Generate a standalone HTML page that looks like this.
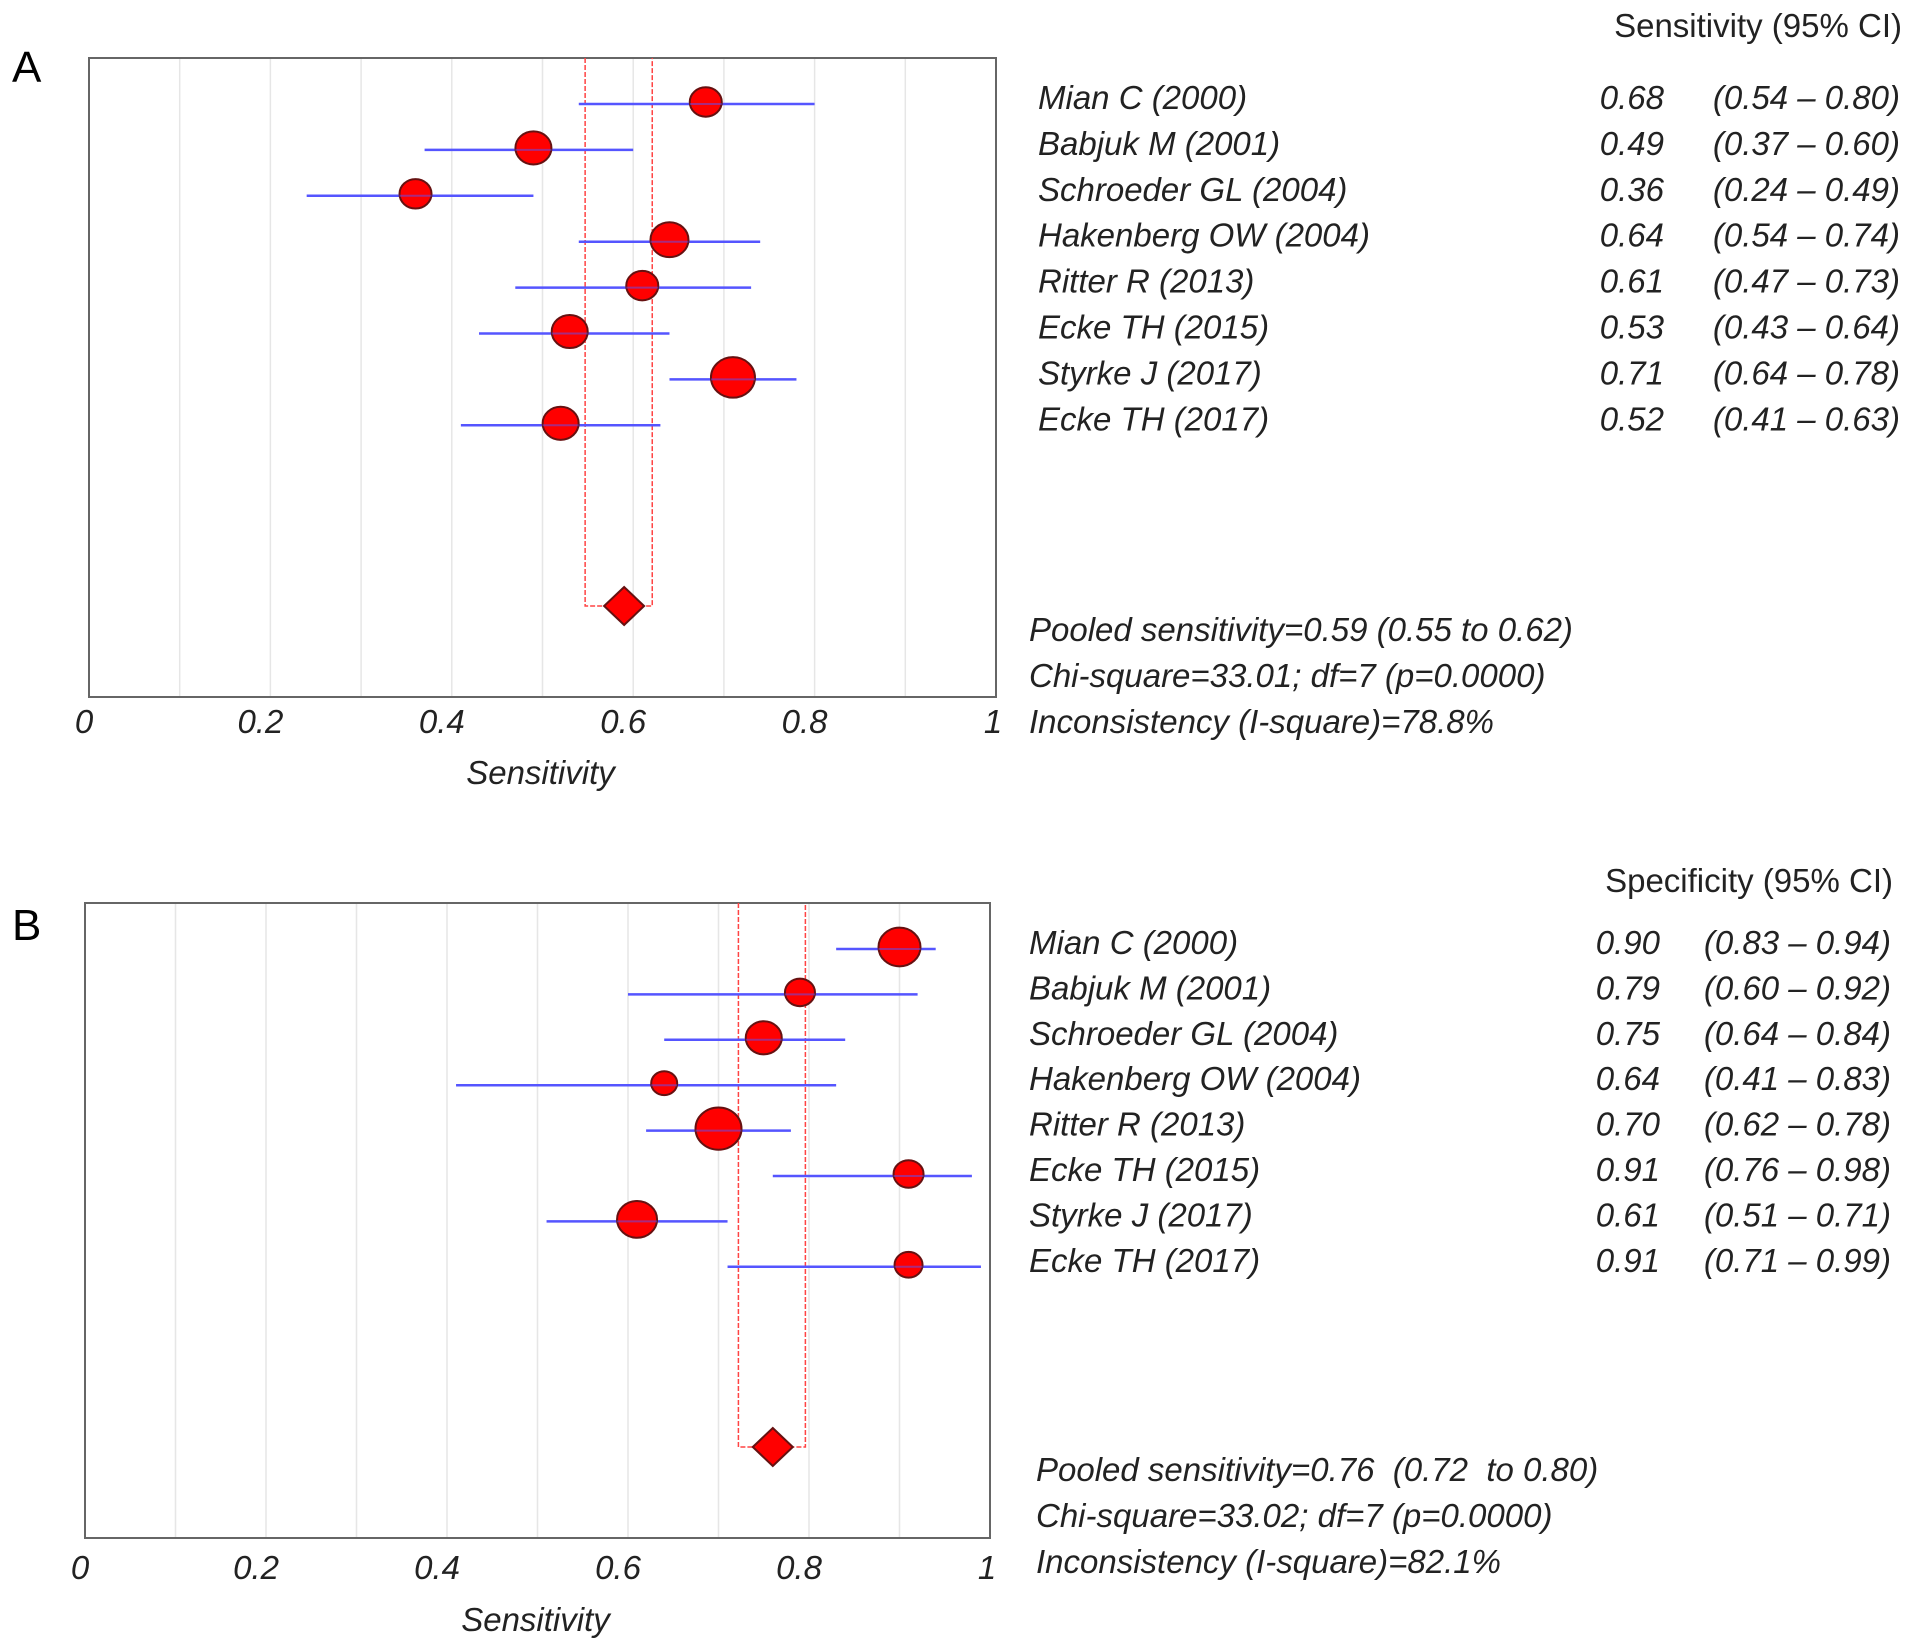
<!DOCTYPE html>
<html><head><meta charset="utf-8"><style>
body{margin:0;background:#fff;}
svg{display:block;font-family:"Liberation Sans",sans-serif;}
svg text{white-space:pre;}
</style></head><body>
<svg id="chart" width="1913" height="1651" viewBox="0 0 1913 1651"></svg>
<script>
const studies=["Mian C (2000)","Babjuk M (2001)","Schroeder GL (2004)","Hakenberg OW (2004)","Ritter R (2013)","Ecke TH (2015)","Styrke J (2017)","Ecke TH (2017)"];
const sensEst=[0.68,0.49,0.36,0.64,0.61,0.53,0.71,0.52];
const sensLo=[0.54,0.37,0.24,0.54,0.47,0.43,0.64,0.41];
const sensHi=[0.80,0.60,0.49,0.74,0.73,0.64,0.78,0.63];
const sensR=[16,18,16,19,16,18,22,18];
const specEst=[0.90,0.79,0.75,0.64,0.70,0.91,0.61,0.91];
const specLo=[0.83,0.60,0.64,0.41,0.62,0.76,0.51,0.71];
const specHi=[0.94,0.92,0.84,0.83,0.78,0.98,0.71,0.99];
const specR=[21,15,18,13,23,15,20,14];
const pooledA=[0.59,0.547,0.621];
const pooledB=[0.76,0.722,0.796];
const ticks=[0,0.2,0.4,0.6,0.8,1];
const tickText=["0","0.2","0.4","0.6","0.8","1"];
const NS="http://www.w3.org/2000/svg";
const svg=document.getElementById('chart');
const FS=33;
function mk(tag,attrs,parent,text){const e=document.createElementNS(NS,tag);for(const k in attrs)e.setAttribute(k,attrs[k]);if(text!==undefined)e.textContent=text;(parent||svg).appendChild(e);return e;}
function panel(cfg){
  const g=mk('g',{});
  
  
  const x=v=>cfg.x0+v*(cfg.x1-cfg.x0);
  const y=i=>cfg.rowY0+i*cfg.rowStep;
  const lab=mk('text',{x:cfg.labX,y:cfg.labY,'font-size':44},g,cfg.letter);
  
  
  for(let k=1;k<10;k++){const gl=mk('line',{x1:x(k/10),x2:x(k/10),y1:cfg.top,y2:cfg.bottom,stroke:'#e6e6e6','stroke-width':1.5},g);
    
    }
  const fr=mk('rect',{x:cfg.x0,y:cfg.top,width:cfg.x1-cfg.x0,height:cfg.bottom-cfg.top,fill:'none',stroke:'#666','stroke-width':2},g);
  
  
  const p=cfg.pooled;
  const dy=cfg.diaY;
  const pb=mk('path',{d:`M${x(p[1])},${cfg.top} V${dy} H${x(p[2])} V${cfg.top}`,fill:'none',stroke:'#f44','stroke-width':1.5,'stroke-dasharray':'5,2'},g);
  
  
  cfg.est.forEach((v,i)=>{
    const l=mk('line',{x1:x(cfg.lo[i]),x2:x(cfg.hi[i]),y1:y(i)+2,y2:y(i)+2,stroke:'#5555ff','stroke-width':2.5},g);
    
    
    const c=mk('ellipse',{cx:x(v),cy:y(i),rx:cfg.r[i],ry:cfg.r[i]*0.92,fill:'#f00',stroke:'#611','stroke-width':2},g);
    
    
    const l2=mk('line',{x1:x(v)-cfg.r[i],x2:x(v)+cfg.r[i],y1:y(i)+2,y2:y(i)+2,stroke:'#5555ff','stroke-width':2,opacity:0.5},g);
    
    
    const n=mk('text',{x:cfg.nameX,y:y(i)+7,'font-size':FS,'font-style':'italic',fill:'#222'},g,studies[i]);
    
    
    const vv=mk('text',{x:cfg.valX,y:y(i)+7,'font-size':FS,'font-style':'italic',fill:'#222','text-anchor':'end'},g,v.toFixed(2));
    
    
    const ci=mk('text',{x:cfg.ciX,y:y(i)+7,'font-size':FS,'font-style':'italic',fill:'#222','text-anchor':'end'},g,'('+cfg.lo[i].toFixed(2)+' – '+cfg.hi[i].toFixed(2)+')');
    
    
  });
  const d=mk('path',{d:`M${x(p[0])-20},${dy} L${x(p[0])},${dy-19} L${x(p[0])+20},${dy} L${x(p[0])},${dy+19}Z`,fill:'#f00',stroke:'#611','stroke-width':2},g);
  
  
  ticks.forEach((t,i)=>{const tt=mk('text',{x:x(t)-(i==0?5:i==5?3:10),y:cfg.tickY,'font-size':FS,'font-style':'italic',fill:'#222','text-anchor':'middle'},g,tickText[i]);
    
    });
  const at=mk('text',{x:x(0.5)-2,y:cfg.titleY,'font-size':FS,'font-style':'italic',fill:'#222','text-anchor':'middle'},g,'Sensitivity');
  
  
  const h=mk('text',{x:cfg.ciX+2,y:cfg.headY,'font-size':FS,fill:'#222','text-anchor':'end'},g,cfg.header);
  
  
  cfg.foot.forEach((s,i)=>{const f=mk('text',{x:cfg.footX,y:cfg.footY+i*46,'font-size':FS,'font-style':'italic',fill:'#222'},g,s);
    
    });
}
panel({name:'panel-a-sensitivity',letter:'A',labX:12,labY:82,x0:89,x1:996,top:58,bottom:697,rowY0:102,rowStep:45.9,r:sensR,est:sensEst,lo:sensLo,hi:sensHi,pooled:pooledA,diaY:606,
  nameX:1038,valX:1664,ciX:1900,tickY:733,titleY:784,header:'Sensitivity (95% CI)',headY:37,
  foot:['Pooled sensitivity=0.59 (0.55 to 0.62)','Chi-square=33.01; df=7 (p=0.0000)','Inconsistency (I-square)=78.8%'],footX:1029,footY:641});
panel({name:'panel-b-specificity',letter:'B',labX:12,labY:940,x0:85,x1:990,top:903,bottom:1538,rowY0:947,rowStep:45.4,r:specR,est:specEst,lo:specLo,hi:specHi,pooled:pooledB,diaY:1447,
  nameX:1029,valX:1660,ciX:1891,tickY:1579,titleY:1631,header:'Specificity (95% CI)',headY:892,
  foot:['Pooled sensitivity=0.76  (0.72  to 0.80)','Chi-square=33.02; df=7 (p=0.0000)','Inconsistency (I-square)=82.1%'],footX:1036,footY:1481});
</script>
</body></html>
